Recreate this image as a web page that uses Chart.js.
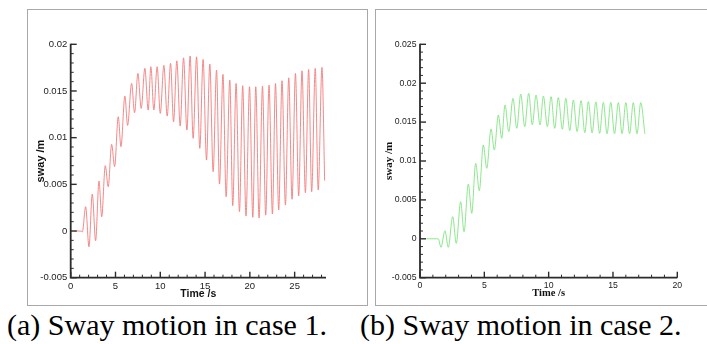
<!DOCTYPE html>
<html>
<head>
<meta charset="utf-8">
<script src="https://cdn.jsdelivr.net/npm/chart.js@4.4.1/dist/chart.umd.min.js"></script>
<style>
  html, body { margin: 0; padding: 0; background: #fff; }
  body { width: 707px; height: 344px; position: relative; overflow: hidden; }
  .panel { position: absolute; border: 1px solid #a8a8a8; box-sizing: border-box; }
  canvas { position: absolute; }
  .cap { position: absolute; font-family: 'Liberation Serif', 'Times New Roman', serif; font-size: 30px; color: #000; white-space: nowrap; line-height: 1; }
</style>
</head>
<body>
<div class="panel" style="left:27px; top:9px; width:341px; height:297px;"></div>
<div class="panel" style="left:375px; top:9px; width:340px; height:297px; border-right:none;"></div>
<canvas id="c1" width="339" height="291" style="left:28px; top:10px;"></canvas>
<canvas id="c2" width="331" height="291" style="left:376px; top:10px;"></canvas>
<div class="cap" style="left:7px; top:310px;">(a) Sway motion in case 1.</div>
<div class="cap" style="left:360px; top:310px;">(b) Sway motion in case 2.</div>
<script>
// ---------- Case 1 data (time in s, sway in m), read at the turning points ----------
const case1Time = [0.5, 1.15, 1.3, 1.67, 2.04, 2.41, 2.78, 3.16, 3.46, 3.86, 4.19, 4.57, 4.9, 5.31, 5.61, 6.05, 6.35, 6.8, 7.13, 7.5, 7.87, 8.28, 8.65, 8.95, 9.28, 9.65, 10.0, 10.4, 10.77, 11.15, 11.48, 11.85, 12.22, 12.6, 12.97, 13.33, 13.67, 14.05, 14.41, 14.78, 15.16, 15.53, 15.9, 16.28, 16.61, 17.0, 17.35, 17.76, 18.09, 18.46, 18.84, 19.2, 19.57, 19.96, 20.33, 20.66, 21.03, 21.41, 21.77, 22.14, 22.52, 22.86, 23.22, 23.59, 23.97, 24.34, 24.71, 25.09, 25.45, 25.82, 26.2, 26.56, 26.9, 27.3, 27.63, 28.05, 28.35];
const case1Sway = [0, 0, -0.0001, 0.0026, -0.00168, 0.00396, -0.00104, 0.00535, 0.00153, 0.0070, 0.00474, 0.00928, 0.0069, 0.01224, 0.00903, 0.01445, 0.01131, 0.01581, 0.01267, 0.01688, 0.01314, 0.01742, 0.01296, 0.0176, 0.01296, 0.0176, 0.0126, 0.01774, 0.01231, 0.01795, 0.0117, 0.01823, 0.01124, 0.01855, 0.01081, 0.01874, 0.00993, 0.01866, 0.00885, 0.01838, 0.0076, 0.01788, 0.00635, 0.01724, 0.00503, 0.01678, 0.00367, 0.01617, 0.00271, 0.01581, 0.00207, 0.01556, 0.0016, 0.01545, 0.00147, 0.01545, 0.00139, 0.01552, 0.0017, 0.01563, 0.00182, 0.0158, 0.00225, 0.0161, 0.00278, 0.01641, 0.0034, 0.01688, 0.00375, 0.01716, 0.0041, 0.01731, 0.00421, 0.01742, 0.00439, 0.01753, 0.0054];

// ---------- Case 2 data ----------
const case2Time = [0.5, 1.42, 1.63, 1.94, 2.2, 2.54, 2.82, 3.16, 3.42, 3.76, 4.02, 4.33, 4.61, 4.92, 5.19, 5.52, 5.78, 6.09, 6.35, 6.61, 6.9, 7.23, 7.52, 7.83, 8.14, 8.45, 8.73, 9.02, 9.33, 9.59, 9.9, 10.19, 10.47, 10.75, 11.07, 11.33, 11.64, 11.92, 12.21, 12.52, 12.81, 13.09, 13.38, 13.67, 13.96, 14.25, 14.54, 14.83, 15.12, 15.42, 15.71, 16.0, 16.29, 16.58, 16.87, 17.16, 17.48];
const case2Sway = [0, 0, -0.00109, 0.00104, -0.00109, 0.00284, -0.00058, 0.00477, 0.00091, 0.00704, 0.00328, 0.0097, 0.00618, 0.01206, 0.00906, 0.01411, 0.01141, 0.01591, 0.01292, 0.0172, 0.01377, 0.01806, 0.0142, 0.01861, 0.01441, 0.0187, 0.01463, 0.01848, 0.01463, 0.01835, 0.01441, 0.01827, 0.0142, 0.01814, 0.01408, 0.01806, 0.0139, 0.01784, 0.01377, 0.01775, 0.01364, 0.01762, 0.0136, 0.0176, 0.01355, 0.01755, 0.0135, 0.01755, 0.0135, 0.0175, 0.0135, 0.0175, 0.0135, 0.0175, 0.0135, 0.0175, 0.0135];

// ---------- Tick labels ----------
const case1XTicks = [0, 5, 10, 15, 20, 25];
const case1XLabels = ['0', '5', '10', '15', '20', '25'];
const case1YTicks = [-0.005, 0, 0.005, 0.01, 0.015, 0.02];
const case1YLabels = ['-0.005', '0', '0.005', '0.01', '0.015', '0.02'];
const case2XTicks = [0, 5, 10, 15, 20];
const case2XLabels = ['0', '5', '10', '15', '20'];
const case2YTicks = [-0.005, 0, 0.005, 0.01, 0.015, 0.02, 0.025];
const case2YLabels = ['-0.005', '0', '0.005', '0.01', '0.015', '0.02', '0.025'];

const axisPlugin = {
  id: 'axisPlugin',
  afterDatasetsDraw(chart, args, o) {
    const { ctx, chartArea: a, scales: { x, y } } = chart;
    ctx.save();
    ctx.strokeStyle = '#2b2b2b';
    ctx.lineCap = 'butt';
    const seg = (x1, y1, x2, y2) => { ctx.beginPath(); ctx.moveTo(x1, y1); ctx.lineTo(x2, y2); ctx.stroke(); };
    const near = (v, arr) => arr.some(m => Math.abs(m - v) < 1e-9);
    ctx.lineWidth = 1;
    for (let i = 0; ; i++) {
      const v = x.min + i * o.xMinor; if (v > x.max + 1e-9) break;
      if (near(v, o.xMajor)) continue;
      const p = x.getPixelForValue(v); seg(p, a.bottom, p, a.bottom - 3);
    }
    for (let i = 0; ; i++) {
      const v = y.min + i * o.yMinor; if (v > y.max + 1e-9) break;
      if (near(v, o.yMajor)) continue;
      const p = y.getPixelForValue(v); seg(a.left, p, a.left + 3, p);
    }
    ctx.lineWidth = 1.4;
    o.xMajor.forEach(v => { const p = x.getPixelForValue(v); seg(p, a.bottom, p, a.bottom - 6); });
    o.yMajor.forEach(v => { const p = y.getPixelForValue(v); seg(a.left, p, a.left + 6, p); });
    ctx.lineWidth = 1.8;
    ctx.beginPath();
    ctx.moveTo(a.left, a.top - 0.5); ctx.lineTo(a.left, a.bottom); ctx.lineTo(a.right, a.bottom);
    ctx.stroke();
    ctx.restore();
  }
};

function makeChart(id, cfg) {
  const pts = cfg.t.map((t, i) => ({ x: t, y: cfg.v[i] }));
  return new Chart(document.getElementById(id), {
    type: 'line',
    data: { datasets: [{ data: pts, borderColor: cfg.color, borderWidth: 0.9, pointRadius: 0, cubicInterpolationMode: 'monotone', fill: false }] },
    options: {
      responsive: false, animation: false, events: [],
      layout: { padding: { left: 0, top: 34.3, right: cfg.padRight, bottom: 0 } },
      plugins: {
        legend: { display: false }, tooltip: { enabled: false },
        axisPlugin: { xMajor: cfg.xTicks, yMajor: cfg.yTicks, xMinor: 1, yMinor: 0.001 }
      },
      scales: {
        x: {
          type: 'linear', min: 0, max: cfg.xMax,
          grid: { display: false, drawTicks: false }, border: { display: false },
          afterBuildTicks: s => { s.ticks = cfg.xTicks.map(v => ({ value: v })); },
          afterFit: s => { s.height = cfg.xH; },
          ticks: { padding: 3, color: '#222', maxRotation: 0, autoSkip: false,
                   font: { family: "'Liberation Sans', Arial, sans-serif", size: cfg.tickSize },
                   callback: (v, i) => cfg.xLabels[i] },
          title: { display: true, text: 'Time /s', color: '#111', padding: { top: 0, bottom: 1 },
                   font: { family: cfg.titleFamily, size: 10.5, weight: 'bold' } }
        },
        y: {
          type: 'linear', min: cfg.yTicks[0], max: cfg.yTicks[cfg.yTicks.length - 1],
          grid: { display: false, drawTicks: false }, border: { display: false },
          afterBuildTicks: s => { s.ticks = cfg.yTicks.map(v => ({ value: v })); },
          afterFit: s => { s.width = cfg.yW; },
          ticks: { padding: 3.5, color: '#222', autoSkip: false,
                   font: { family: "'Liberation Sans', Arial, sans-serif", size: cfg.tickSize },
                   callback: (v, i) => cfg.yLabels[i] },
          title: { display: true, text: 'sway /m', color: '#111', padding: { top: cfg.yTitlePad, bottom: 0 },
                   font: { family: cfg.titleFamily, size: 11, weight: 'bold' } }
        }
      }
    },
    plugins: [axisPlugin]
  });
}

makeChart('c1', {
  t: case1Time, v: case1Sway, color: '#f27c7c',
  xTicks: case1XTicks, xLabels: case1XLabels, yTicks: case1YTicks, yLabels: case1YLabels,
  xMax: 28.5, padRight: 41, xH: 23.3, yW: 42.7, yTitlePad: 6.1, tickSize: 9.5,
  titleFamily: "'Liberation Sans', Arial, sans-serif"
});
makeChart('c2', {
  t: case2Time, v: case2Sway, color: '#7fe47f',
  xTicks: case2XTicks, xLabels: case2XLabels, yTicks: case2YTicks, yLabels: case2YLabels,
  xMax: 20, padRight: 29.7, xH: 23.3, yW: 44, yTitlePad: 6.7, tickSize: 8.7,
  titleFamily: "'Liberation Serif', 'Times New Roman', serif"
});
</script>
</body>
</html>
